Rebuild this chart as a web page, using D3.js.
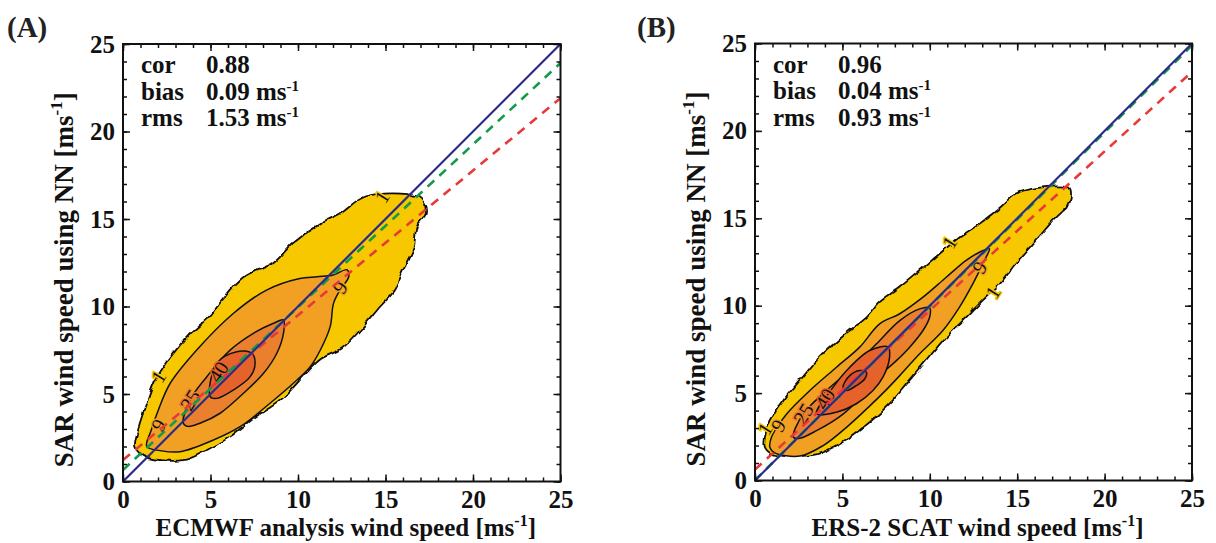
<!DOCTYPE html>
<html>
<head>
<meta charset="utf-8">
<script src="https://cdn.jsdelivr.net/npm/d3@7"></script>
<style>
body { margin: 0; background: #fff; }
text { font-family: "Liberation Serif", "Times New Roman", serif; }
</style>
</head>
<body>
<svg id="chart" width="1216" height="543"></svg>
<script>
// Axis ticks (both panels, both axes)
const majorTicks = [0, 5, 10, 15, 20, 25];
const minorTicks = d3.range(0, 26);

// Statistics boxes
const statNames = ['cor', 'bias', 'rms'];
const statUnits = [false, true, true];
const statsA = ['0.88', '0.09', '1.53'];
const statsB = ['0.96', '0.04', '0.93'];

// Regression lines: [intercept, slope]
const greenFitA = [0.66, 0.93];
const redFitA = [1.23, 0.827];
const greenFitB = [0.02, 0.995];
const redFitB = [0.63, 0.91];

// Contour levels and fill colours
const levels = [1, 9, 25, 40, 55];
const levelColors = ['#f7c800', '#f1a024', '#ea802d', '#e5622a', '#df4e26'];

// Panel A contours, [x, y] in m/s
const contourA1 = [[0.7,2.0],[1.15,1.45],[2.3,1.2],[3.6,1.25],[4.8,1.8],[6.1,2.55],[7.6,3.7],[9.0,4.65],[10.3,6.0],[11.3,7.0],[12.5,7.6],[13.6,8.7],[14.7,10.0],[15.5,10.9],[15.9,11.9],[16.6,13.4],[16.8,14.6],[17.3,15.3],[17.2,15.9],[16.8,16.3],[13.9,16.3],[12.4,15.3],[11.3,14.75],[9.7,13.6],[8.6,12.5],[6.9,11.7],[5.7,10.4],[5.0,9.5],[3.8,8.4],[2.9,7.35],[1.95,6.0],[1.25,4.2],[0.8,2.75]];
const contourA9 = [[1.36,2.0],[2.2,1.75],[3.26,1.7],[5.17,2.37],[6.69,3.13],[8.4,4.47],[9.94,5.8],[10.7,6.56],[11.27,7.5],[11.84,8.85],[12.03,10.18],[12.4,10.94],[12.9,11.7],[12.8,12.1],[12.0,11.8],[11.1,11.7],[10.1,11.6],[8.2,10.94],[6.3,9.6],[4.2,7.5],[2.69,5.6],[2.02,4.09],[1.6,2.9]];
const contourA25 = [[3.45,3.33],[3.83,4.66],[4.79,5.99],[6.12,7.51],[7.45,8.47],[8.6,9.04],[9.17,9.23],[9.17,8.47],[8.79,7.33],[8.03,6.18],[6.88,5.04],[5.55,3.9],[4.4,3.33],[3.7,3.15]];
const contourA40 = [[4.98,4.85],[5.36,6.75],[6.5,7.42],[7.36,7.33],[7.55,6.75],[7.27,5.99],[6.31,5.23],[5.36,4.75]];

// Panel B contours
const contourB1 = [[0.57,1.9],[1.04,1.5],[2.0,1.4],[3.5,1.5],[4.85,2.1],[6.4,3.2],[7.9,4.6],[8.66,5.5],[9.8,6.86],[10.75,8.0],[11.89,9.15],[13.03,10.3],[14.1,11.35],[14.9,12.4],[15.6,13.2],[16.3,14.0],[16.9,14.7],[17.5,15.3],[17.9,15.7],[18.07,16.2],[17.98,16.7],[15.9,16.7],[14.9,16.4],[14.0,15.6],[12.84,14.68],[11.7,13.92],[10.56,12.97],[9.42,12.0],[8.28,11.06],[7.13,10.2],[6.4,9.35],[5.2,8.4],[3.7,7.06],[2.57,5.72],[1.62,4.58],[0.86,3.43],[0.57,2.5]];
const contourB9 = [[0.85,1.9],[1.1,1.6],[2.57,1.4],[3.9,2.0],[5.3,3.1],[6.6,4.3],[7.52,5.2],[8.28,6.0],[9.42,7.25],[10.75,8.58],[11.7,9.92],[12.46,11.25],[12.84,12.0],[13.22,12.77],[13.41,13.25],[12.84,13.06],[12.08,12.59],[10.94,11.63],[9.61,10.49],[8.28,9.54],[7.13,8.96],[5.99,7.63],[4.66,6.48],[3.14,5.15],[1.81,3.81],[1.33,3.15],[0.95,2.5]];
const contourB25 = [[2.19,2.48],[2.76,3.81],[4.09,5.15],[5.61,6.48],[6.95,7.82],[8.28,9.15],[9.42,9.82],[9.99,9.88],[9.99,9.34],[9.61,8.58],[8.85,7.63],[8.09,6.86],[7.13,6.0],[6.3,5.0],[5.04,3.8],[3.52,2.85],[2.5,2.4]];
const contourB40 = [[3.52,3.81],[4.47,5.34],[5.42,6.48],[6.56,7.44],[7.61,7.63],[7.7,7.06],[7.32,5.91],[6.75,5.15],[5.8,4.39],[4.66,3.91]];
const contourB55 = [[5.04,5.34],[5.42,6.0],[5.99,6.29],[6.37,6.2],[6.28,5.82],[5.8,5.43],[5.23,5.15]];

// Contour labels: [text, x, y, level index of background]
const labelsA = [['1',2.02,5.99,0],['1',14.8,16.27,0],['9',2.02,3.23,1],['9',12.4,11.1,1],['25',3.83,4.66,2],['40',5.45,6.27,3]];
const labelsB = [['1',0.57,2.96,0],['9',1.33,3.15,1],['25',2.76,3.81,2],['40',4.0,4.67,3],['1',11.13,13.63,0],['9',12.84,12.2,1],['1',13.6,10.77,0]];

const svg = d3.select('#chart');

// wavy edge for the binned outer contour
const defs = svg.append('defs');
const filt = defs.append('filter').attr('id', 'wavy')
    .attr('x', '-5%').attr('y', '-5%').attr('width', '110%').attr('height', '110%');
filt.append('feTurbulence').attr('type', 'fractalNoise')
    .attr('baseFrequency', 0.12).attr('numOctaves', 1).attr('seed', 4).attr('result', 'noise');
filt.append('feDisplacementMap').attr('in', 'SourceGraphic').attr('in2', 'noise')
    .attr('scale', 6).attr('xChannelSelector', 'R').attr('yChannelSelector', 'G');

const panels = [
    { tag: '(A)', tagX: 7, left: 123, top: 44, size: 437.5,
      xTitle: 'ECMWF analysis wind speed [ms', stats: statsA,
      contours: [contourA1, contourA9, contourA25, contourA40],
      labels: labelsA, green: greenFitA, red: redFitA },
    { tag: '(B)', tagX: 637, left: 755, top: 43.5, size: 437,
      xTitle: 'ERS-2 SCAT wind speed [ms', stats: statsB,
      contours: [contourB1, contourB9, contourB25, contourB40, contourB55],
      labels: labelsB, green: greenFitB, red: redFitB }
];

panels.forEach((p, pi) => {
    const x = d3.scaleLinear().domain([0, 25]).range([p.left, p.left + p.size]);
    const y = d3.scaleLinear().domain([0, 25]).range([p.top + p.size, p.top]);
    const g = svg.append('g');

    const clipId = 'clip' + pi;
    defs.append('clipPath').attr('id', clipId)
        .append('rect')
        .attr('x', p.left).attr('y', p.top)
        .attr('width', p.size).attr('height', p.size);

    // Contours
    const line = d3.line()
        .x(d => x(d[0]))
        .y(d => y(d[1]))
        .curve(d3.curveCatmullRomClosed.alpha(0.5));

    const cg = g.append('g').attr('clip-path', `url(#${clipId})`);
    p.contours.forEach((c, i) => {
        cg.append('path')
            .attr('d', line(c))
            .attr('fill', levelColors[i])
            .attr('stroke', '#111')
            .attr('stroke-width', i === 0 ? 1.8 : 1.5)
            .attr('stroke-linejoin', 'round')
            .attr('filter', i === 0 ? 'url(#wavy)' : null);
    });

    // Contour labels
    cg.selectAll('text.clab')
        .data(p.labels)
        .enter()
        .append('text')
        .attr('class', 'clab')
        .attr('transform', d => `translate(${x(d[1])},${y(d[2])}) rotate(-58)`)
        .attr('text-anchor', 'middle')
        .attr('dy', '0.35em')
        .style('font-size', '20px')
        .style('fill', '#111')
        .style('stroke', d => levelColors[d[3]])
        .style('stroke-width', 3)
        .style('paint-order', 'stroke')
        .text(d => d[0]);

    // Fit lines
    const fitLine = (fit, color, dash, width) => {
        cg.append('line')
            .attr('x1', x(0)).attr('y1', y(fit[0]))
            .attr('x2', x(25)).attr('y2', y(fit[0] + fit[1] * 25))
            .attr('stroke', color)
            .attr('stroke-width', width)
            .attr('stroke-dasharray', dash);
    };
    fitLine(p.red, '#e8393a', '9,7', 2.6);
    fitLine(p.green, '#139a4a', '9,7', 2.6);
    fitLine([0, 1], '#2b2a86', null, 2.2);

    // Minor ticks on all four sides
    const minor = [
        d3.axisBottom(x).tickValues(minorTicks).tickSize(-4).tickFormat(''),
        d3.axisTop(x).tickValues(minorTicks).tickSize(-4).tickFormat(''),
        d3.axisLeft(y).tickValues(minorTicks).tickSize(-4).tickFormat(''),
        d3.axisRight(y).tickValues(minorTicks).tickSize(-4).tickFormat('')
    ];
    const pos = [
        `translate(0,${p.top + p.size})`, `translate(0,${p.top})`,
        `translate(${p.left},0)`, `translate(${p.left + p.size},0)`
    ];
    minor.forEach((ax, i) => {
        g.append('g').attr('transform', pos[i]).call(ax.tickSizeOuter(0))
            .call(s => s.select('.domain').remove())
            .selectAll('line').attr('stroke', '#111').attr('stroke-width', 1.3);
    });

    // Major ticks
    const xAxis = g.append('g').attr('transform', pos[0])
        .call(d3.axisBottom(x).tickValues(majorTicks).tickSize(-7).tickSizeOuter(0).tickPadding(9));
    g.append('g').attr('transform', pos[1])
        .call(d3.axisTop(x).tickValues(majorTicks).tickSize(-7).tickSizeOuter(0).tickFormat(''));
    const yAxis = g.append('g').attr('transform', pos[2])
        .call(d3.axisLeft(y).tickValues(majorTicks).tickSize(-7).tickSizeOuter(0).tickPadding(8));
    g.append('g').attr('transform', pos[3])
        .call(d3.axisRight(y).tickValues(majorTicks).tickSize(-7).tickSizeOuter(0).tickFormat(''));

    g.selectAll('.domain').remove();
    g.selectAll('.tick line').attr('stroke', '#111').attr('stroke-width', 1.5);
    [xAxis, yAxis].forEach(a => a.selectAll('text')
        .style('font-family', '"Liberation Serif", "Times New Roman", serif')
        .style('font-size', '25px')
        .style('font-weight', 'bold')
        .style('fill', '#111'));

    // Frame
    g.append('rect')
        .attr('x', p.left).attr('y', p.top)
        .attr('width', p.size).attr('height', p.size)
        .attr('fill', 'none')
        .attr('stroke', '#111')
        .attr('stroke-width', 2);

    // Panel tag
    g.append('text')
        .attr('x', p.tagX).attr('y', 37)
        .style('font-size', '29px')
        .style('font-weight', 'bold')
        .style('fill', '#222')
        .text(p.tag);

    // Stats
    const st = g.append('g').style('font-size', '25px').style('font-weight', 'bold').style('fill', '#111');
    statNames.forEach((n, i) => {
        const yy = p.top + 29 + i * 26.5;
        st.append('text').attr('x', p.left + 18).attr('y', yy).text(n);
        const t = st.append('text').attr('x', p.left + 83).attr('y', yy).text(p.stats[i]);
        if (statUnits[i]) {
            t.append('tspan').text(' ms');
            t.append('tspan').attr('dy', -9).style('font-size', '15px').text('-1');
        }
    });

    // Axis titles
    const xt = g.append('text')
        .attr('x', p.left + p.size / 2 + 4).attr('y', 535.5)
        .attr('text-anchor', 'middle')
        .style('font-size', '25px').style('font-weight', 'bold').style('fill', '#111')
        .text(p.xTitle);
    xt.append('tspan').attr('dy', -10).style('font-size', '16px').text('-1');
    xt.append('tspan').attr('dy', 10).text(']');

    const yt = g.append('text')
        .attr('transform', `translate(${p.left - 50},${p.top + p.size / 2 + 17}) rotate(-90)`)
        .attr('text-anchor', 'middle')
        .style('font-size', '27px').style('font-weight', 'bold').style('fill', '#111')
        .text('SAR wind speed using NN [ms');
    yt.append('tspan').attr('dy', -11).style('font-size', '17px').text('-1');
    yt.append('tspan').attr('dy', 11).text(']');
});
</script>
</body>
</html>
